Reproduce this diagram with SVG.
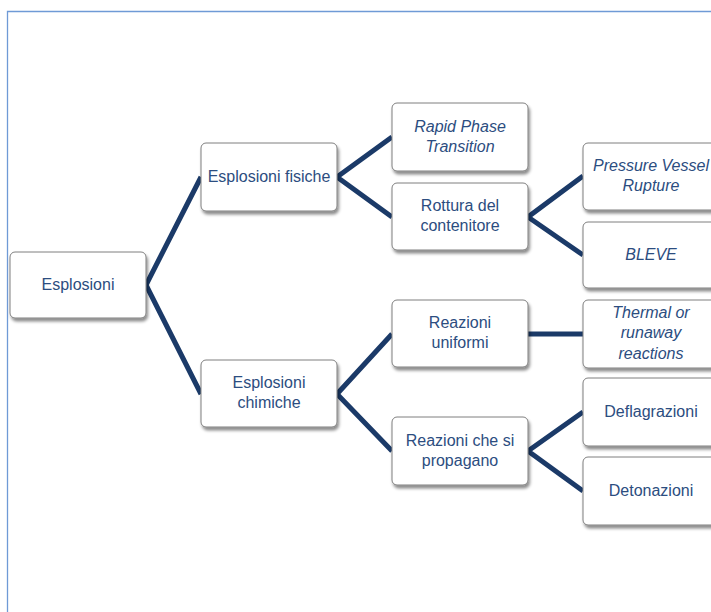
<svg xmlns="http://www.w3.org/2000/svg" width="711" height="612" viewBox="0 0 711 612">
<defs>
<filter id="sh" x="-10%" y="-10%" width="125%" height="135%">
<feDropShadow dx="1.5" dy="3" stdDeviation="1.8" flood-color="#000" flood-opacity="0.45"/>
</filter>
<style>
.box{fill:#fff;stroke:#7f7f7f;stroke-width:1;filter:url(#sh)}
.t{font-family:"Liberation Sans","DejaVu Sans",sans-serif;font-size:16px;fill:#2c4d80;text-anchor:middle}
.i{font-style:italic}
.c{fill:none;stroke:#1b3a68;stroke-width:5;stroke-linejoin:miter}
</style>
</defs>
<rect width="711" height="612" fill="#fff"/>
<path d="M7.5,612 V11.5 H711" fill="none" stroke="#6f9ad6" stroke-width="1.3"/>
<g id="connectors">
<path class="c" d="M201,177 L146,285 L201,394"/>
<path class="c" d="M392,137 L337,177 L392,217"/>
<path class="c" d="M583,176 L528,217 L583,255"/>
<path class="c" d="M392,334 L337,394 L392,451"/>
<path class="c" d="M528,334 L583,334"/>
<path class="c" d="M583,412 L528,451 L583,491"/>
</g>
<g id="esplosioni"><rect class="box" x="10" y="252" width="136" height="66" rx="5"/><text class="t" x="78" y="290">Esplosioni</text></g>
<g id="fisiche"><rect class="box" x="201" y="143" width="136" height="68" rx="5"/><text class="t" x="269" y="182">Esplosioni fisiche</text></g>
<g id="chimiche"><rect class="box" x="201" y="360" width="136" height="67" rx="5"/><text class="t" x="269" y="388">Esplosioni</text><text class="t" x="269" y="408">chimiche</text></g>
<g id="rpt"><rect class="box" x="392" y="103" width="136" height="68" rx="5"/><text class="t i" x="460" y="132">Rapid Phase</text><text class="t i" x="460" y="152">Transition</text></g>
<g id="rottura"><rect class="box" x="392" y="183" width="136" height="67" rx="5"/><text class="t" x="460" y="211">Rottura del</text><text class="t" x="460" y="231">contenitore</text></g>
<g id="uniformi"><rect class="box" x="392" y="300" width="136" height="67" rx="5"/><text class="t" x="460" y="328">Reazioni</text><text class="t" x="460" y="348">uniformi</text></g>
<g id="propagano"><rect class="box" x="392" y="417" width="136" height="68" rx="5"/><text class="t" x="460" y="446">Reazioni che si</text><text class="t" x="460" y="466">propagano</text></g>
<g id="pvr"><rect class="box" x="583" y="143" width="136" height="67" rx="5"/><text class="t i" x="651" y="171">Pressure Vessel</text><text class="t i" x="651" y="191">Rupture</text></g>
<g id="bleve"><rect class="box" x="583" y="222" width="136" height="66" rx="5"/><text class="t i" x="651" y="260">BLEVE</text></g>
<g id="thermal"><rect class="box" x="583" y="300" width="136" height="68" rx="5"/><text class="t i" x="651" y="318">Thermal or</text><text class="t i" x="651" y="338">runaway</text><text class="t i" x="651" y="359">reactions</text></g>
<g id="deflagrazioni"><rect class="box" x="583" y="378" width="136" height="68" rx="5"/><text class="t" x="651" y="417">Deflagrazioni</text></g>
<g id="detonazioni"><rect class="box" x="583" y="457" width="136" height="68" rx="5"/><text class="t" x="651" y="496">Detonazioni</text></g>
</svg>
